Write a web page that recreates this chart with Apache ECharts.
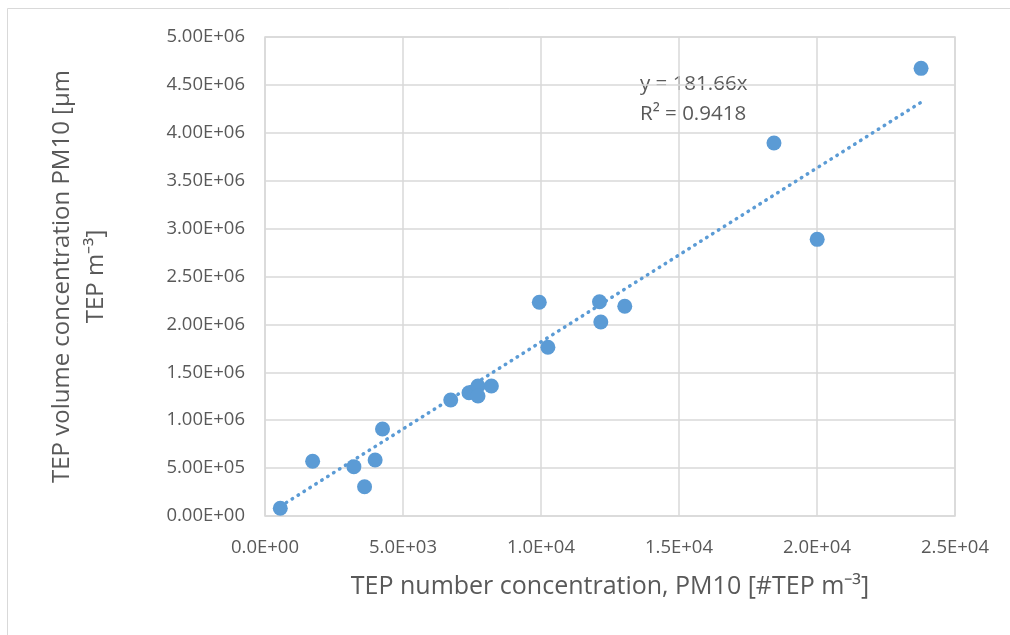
<!DOCTYPE html>
<html>
<head>
<meta charset="utf-8">
<script src="https://cdn.jsdelivr.net/npm/echarts@6/dist/echarts.min.js"></script>
<style>
  html, body { margin: 0; padding: 0; background: #fff; }
  #chart { width: 1010px; height: 635px; }
</style>
</head>
<body>
<div id="chart"></div>
<script>
// TEP number vs volume concentration (PM10)
const tepNumber = [554, 1726, 3220, 3607, 3991, 4258, 6729, 7392, 7717, 7717,
  8202, 9938, 12120, 13035, 12167, 10250, 18441, 23770, 20007];
const tepVolume = [80400, 571000, 515000, 306000, 585000, 908000, 1211000, 1287000, 1357000, 1253000,
  1357000, 2231000, 2237000, 2189000, 2025000, 1761000, 3894000, 4673000, 2888000];

// linear trendline through origin (as printed on the chart)
const trendX = [554, 23770];
const trendY = [100600, 4318000];
const trendText = ['y = 181.66x', 'R² = 0.9418'];

// axis ranges
const xAxisRange = [0, 25000, 5000];
const yAxisRange = [0, 5000000, 500000];

const xTitle = 'TEP number concentration, PM10 [#TEP m⁻³]';
const yTitle = 'TEP volume concentration PM10 [µm\nTEP m⁻³]';

const blue = '#5b9bd5';
const grey = '#595959';
const gridGrey = '#d9d9d9';
const font = 'Open Sans';

// 5.0E+03 style labels
function expLabel(v, digits) {
  if (v === 0) return (0).toFixed(digits) + 'E+00';
  let e = Math.floor(Math.log10(Math.abs(v)) + 1e-9);
  let m = v / Math.pow(10, e);
  let es = (e < 0 ? '-' : '+') + String(Math.abs(e)).padStart(2, '0');
  return m.toFixed(digits) + 'E' + es;
}

const scatterData = tepNumber.map((x, i) => [x, tepVolume[i]]);
const trendData = trendX.map((x, i) => [x, trendY[i]]);

const chart = echarts.init(document.getElementById('chart'));

chart.setOption({
  backgroundColor: '#fff',
  animation: false,
  grid: { left: 265, right: 55, top: 37, bottom: 119, show: true, borderColor: gridGrey, borderWidth: 1.5 },
  xAxis: {
    type: 'value',
    min: xAxisRange[0], max: xAxisRange[1], interval: xAxisRange[2],
    name: xTitle,
    nameLocation: 'middle',
    nameGap: 58,
    nameTextStyle: { fontFamily: font, fontSize: 25, color: grey },
    axisLine: { show: false },
    axisTick: { show: false },
    splitLine: { lineStyle: { color: gridGrey, width: 1.5 } },
    axisLabel: { fontFamily: font, fontSize: 18.5, color: grey, margin: 22, formatter: v => expLabel(v, 1) }
  },
  yAxis: {
    type: 'value',
    min: yAxisRange[0], max: yAxisRange[1], interval: yAxisRange[2],
    name: yTitle,
    nameLocation: 'middle',
    nameGap: 152,
    nameTextStyle: { fontFamily: font, fontSize: 24, color: grey, lineHeight: 34, align: 'center' },
    axisLine: { show: false },
    axisTick: { show: false },
    splitLine: { lineStyle: { color: gridGrey, width: 1.5 } },
    axisLabel: { fontFamily: font, fontSize: 18.5, color: grey, margin: 20, formatter: v => expLabel(v, 2) }
  },
  graphic: [
    {
      type: 'rect', silent: true, z: -10,
      shape: { x: 7.5, y: 8.5, width: 1020, height: 640 },
      style: { fill: 'none', stroke: gridGrey, lineWidth: 1 }
    },
    {
      type: 'text', left: 640, top: 69,
      style: { text: trendText.join('\n'), fontFamily: font, fontSize: 20.5, lineHeight: 30, fill: grey }
    }
  ],
  series: [
    {
      type: 'line',
      data: trendData,
      showSymbol: false,
      z: 1,
      lineStyle: { color: blue, width: 3.5, type: [0.5, 6.5], cap: 'round' }
    },
    {
      type: 'scatter',
      data: scatterData,
      symbol: 'circle',
      symbolSize: 15,
      z: 3,
      itemStyle: { color: blue, opacity: 1 }
    }
  ]
});
</script>
</body>
</html>
